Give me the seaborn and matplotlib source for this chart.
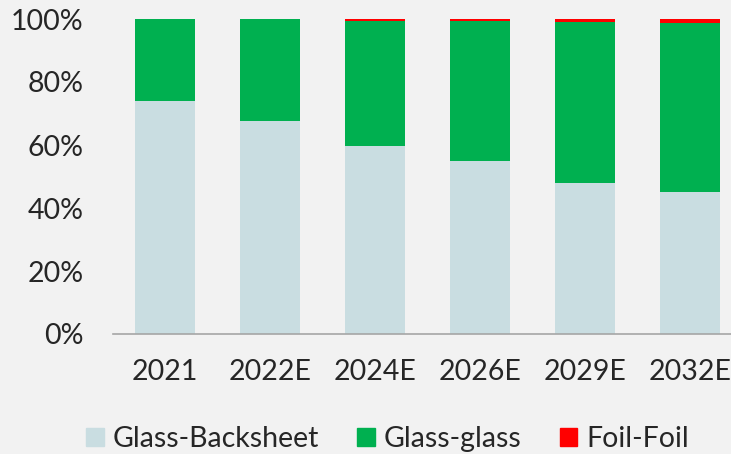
import numpy as np
import pandas as pd
import matplotlib
matplotlib.use("Agg")
from matplotlib import pyplot as plt
from matplotlib.patches import Patch
import seaborn as sns

years = ["2021", "2022E", "2024E", "2026E", "2029E", "2032E"]
glass_backsheet = [74.0, 67.6, 59.8, 55.0, 48.0, 45.0]
glass_glass = [26.0, 32.3, 39.7, 44.3, 51.0, 53.7]
foil_foil = [0.0, 0.1, 0.5, 0.7, 1.0, 1.3]

df = pd.DataFrame({"year": years,
                   "gb": glass_backsheet,
                   "gg": glass_glass,
                   "ff": foil_foil})
df["gb_gg"] = df["gb"] + df["gg"]
df["total"] = df["gb_gg"] + df["ff"]

c_gb = "#c9dde1"
c_gg = "#00b050"
c_ff = "#ff0000"
bg = "#f2f2f2"

sns.set_style("white")
plt.rcParams["font.family"] = ["Lato", "DejaVu Sans"]

fig = plt.figure(figsize=(7.31, 4.54), dpi=100, facecolor=bg)
ax = fig.add_axes([112.5 / 731, 1 - 334 / 454, 630 / 731, 315 / 454])
ax.set_facecolor(bg)

w = 60 / 105
for col, c in [("total", c_ff), ("gb_gg", c_gg), ("gb", c_gb)]:
    sns.barplot(data=df, x="year", y=col, color=c, width=w, saturation=1,
                linewidth=0, ax=ax)

ax.set_xlim(-0.5, 5.5)
ax.set_ylim(0, 100)
ax.set_yticks([0, 20, 40, 60, 80, 100])
ax.set_yticklabels([f"{v}%" for v in [0, 20, 40, 60, 80, 100]])
ax.set_xlabel("")
ax.set_ylabel("")
ax.tick_params(axis="y", length=0, pad=21, labelsize=20.5)
ax.tick_params(axis="x", length=0, pad=18, labelsize=20.5)
for s in ["top", "right", "left"]:
    ax.spines[s].set_visible(False)
ax.spines["bottom"].set_color("#a6a6a6")
ax.spines["bottom"].set_linewidth(1.2)

handles = [Patch(color=c_gb, label="Glass-Backsheet"),
           Patch(color=c_gg, label="Glass-glass"),
           Patch(color=c_ff, label="Foil-Foil")]
fig.legend(handles=handles, loc="center", bbox_to_anchor=(387.5 / 731, 1 - 439 / 454),
           ncol=3, frameon=False, fontsize=20.5, handlelength=0.62, handleheight=0.62,
           handletextpad=0.31, columnspacing=1.34, borderpad=0)

fig.savefig("out.png", dpi=100, facecolor=bg)
